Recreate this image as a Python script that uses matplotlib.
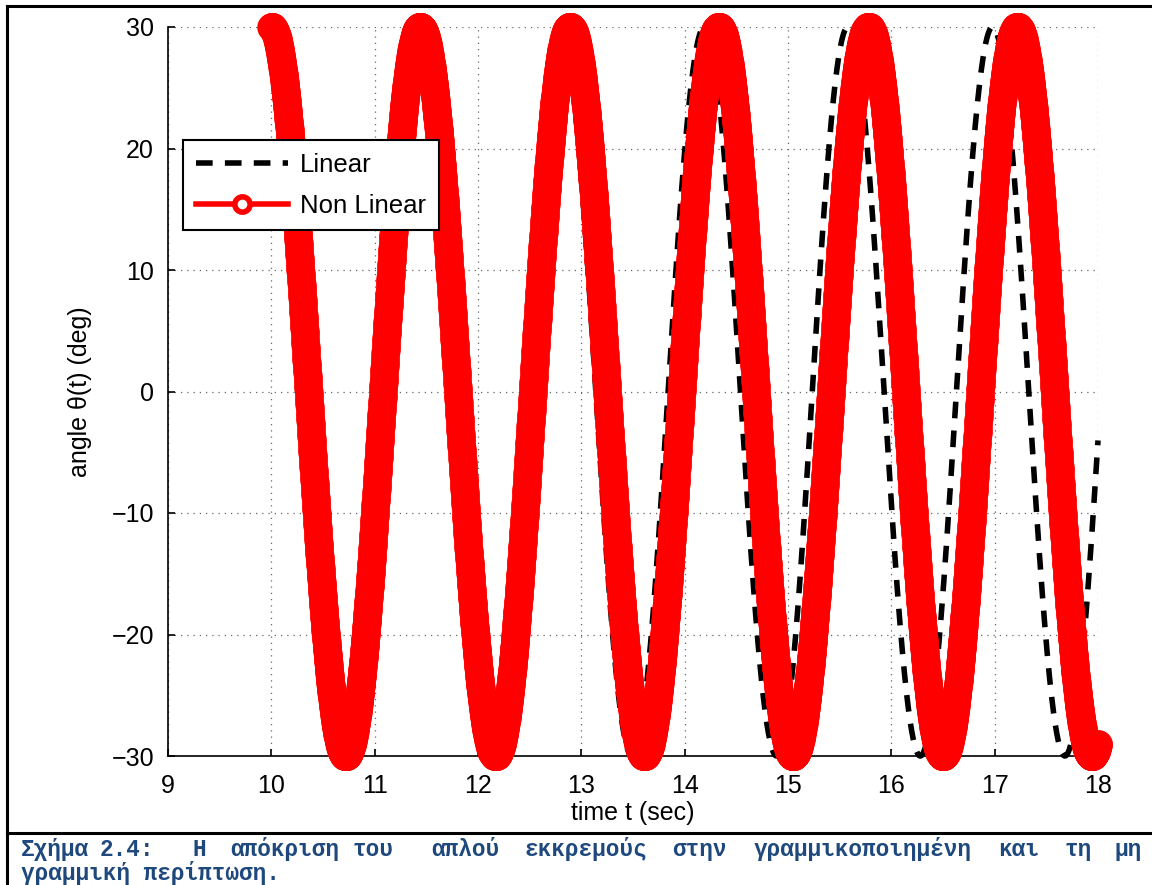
import numpy as np
import matplotlib
matplotlib.use('Agg')
import matplotlib.pyplot as plt
from matplotlib.lines import Line2D

# extrema (time in sec, angle in deg)
lin_ext_t = [10.0, 10.70, 11.40, 12.09, 12.79, 13.49, 14.19, 14.89, 15.58, 16.28, 16.98, 17.68, 18.38]
lin_ext_v = [30, -30, 30, -30, 30, -30, 30, -30, 30, -30, 30, -30, 30]
nl_ext_t = [10.0, 10.72, 11.44, 12.17, 12.89, 13.61, 14.33, 15.05, 15.78, 16.50, 17.22, 17.94, 18.66]
nl_ext_v = [30, -30, 30, -30, 30, -30, 30, -30, 30, -30, 30, -30, 30]
t_start, t_end = 10.0, 18.0

xticks = [9, 10, 11, 12, 13, 14, 15, 16, 17, 18]
yticks = [-30, -20, -10, 0, 10, 20, 30]

caption1 = ['Σχήμα', '2.4:', 'Η', 'απόκριση', 'του', 'απλού', 'εκκρεμούς',
            'στην', 'γραμμικοποιημένη', 'και', 'τη', 'μη']
caption1_x = [21, 100, 193, 230, 353, 431, 524, 672, 754, 998, 1065, 1115]
caption2 = 'γραμμική περίπτωση.'


def smooth(ext_t, ext_v, t):
    # half-cosine shape between consecutive extrema
    out = np.empty_like(t)
    for i in range(len(ext_t) - 1):
        a, b = ext_t[i], ext_t[i + 1]
        m = (t >= a) & (t <= b)
        mid = (ext_v[i] + ext_v[i + 1]) / 2
        half = (ext_v[i] - ext_v[i + 1]) / 2
        out[m] = mid + half * np.cos(np.pi * (t[m] - a) / (b - a))
    return out


t = np.arange(t_start, t_end + 1e-9, 0.002)
lin = smooth(lin_ext_t, lin_ext_v, t)
nl = smooth(nl_ext_t, nl_ext_v, t)

W, H = 1152, 885
fig = plt.figure(figsize=(W / 100, H / 100), dpi=100)
fig.patch.set_facecolor('white')

ax = fig.add_axes([168 / W, 1 - 756 / H, 930 / W, 729 / H])
ax.plot(t, lin, color='black', lw=4, linestyle=(0, (3, 2.2)), zorder=2, clip_on=False)
ax.plot(t, nl, color='red', lw=4, marker='o', markersize=18.5, mfc='red', mec='red', mew=2,
        zorder=3, clip_on=False)

ax.set_xlim(9, 18)
ax.set_ylim(-30, 30)
ax.set_xticks(xticks)
ax.set_yticks(yticks)
for s in ['top', 'right']:
    ax.spines[s].set_visible(False)
for s in ['left', 'bottom']:
    ax.spines[s].set_linewidth(1.2)
    ax.spines[s].set_zorder(1)
ax.tick_params(direction='in', length=5, width=1.2, labelsize=18, pad=10)
ax.tick_params(axis='x', pad=13)
ax.grid(True, color='#666666', linestyle=(0, (1, 4)), linewidth=0.9)
ax.set_axisbelow(True)
for lab in ax.get_xticklabels() + ax.get_yticklabels():
    lab.set_fontfamily('Liberation Sans')

ax.set_xlabel('time t (sec)', fontsize=18, family='Liberation Sans', labelpad=2)
ax.set_ylabel('angle θ(t) (deg)', fontsize=18, family='Liberation Sans', labelpad=14)

handles = [Line2D([], [], color='black', lw=4, linestyle=(0, (3, 2.2))),
           Line2D([], [], color='red', lw=4, marker='o', markersize=11, mfc='white', mec='red', mew=4)]
leg = ax.legend(handles, ['Linear', 'Non Linear'], loc='upper left', bbox_to_anchor=(0.016, 0.845),
                borderaxespad=0, fancybox=False, framealpha=1, edgecolor='black',
                prop={'family': 'Liberation Sans', 'size': 18.5}, handlelength=3.6,
                handletextpad=0.45, borderpad=0.5, labelspacing=0.65)
leg.get_frame().set_linewidth(1.5)
leg.set_zorder(5)

# page frame and caption
fig.add_artist(Line2D([7 / W, 7 / W], [0, 1 - 6 / H], color='black', lw=2.2, transform=fig.transFigure))
fig.add_artist(Line2D([7 / W, 1], [1 - 6 / H, 1 - 6 / H], color='black', lw=2.2, transform=fig.transFigure))
fig.add_artist(Line2D([7 / W, 1], [1 - 833 / H, 1 - 833 / H], color='black', lw=2.2, transform=fig.transFigure))

cap_color = '#1F497D'
for word, x in zip(caption1, caption1_x):
    fig.text(x / W, 1 - 856 / H, word, family='Liberation Mono', weight='bold', fontsize=16.4,
             color=cap_color, va='baseline', ha='left')
fig.text(21 / W, 1 - 880 / H, caption2, family='Liberation Mono', weight='bold', fontsize=16.4,
         color=cap_color, va='baseline', ha='left')

fig.savefig('out.png', dpi=100)
